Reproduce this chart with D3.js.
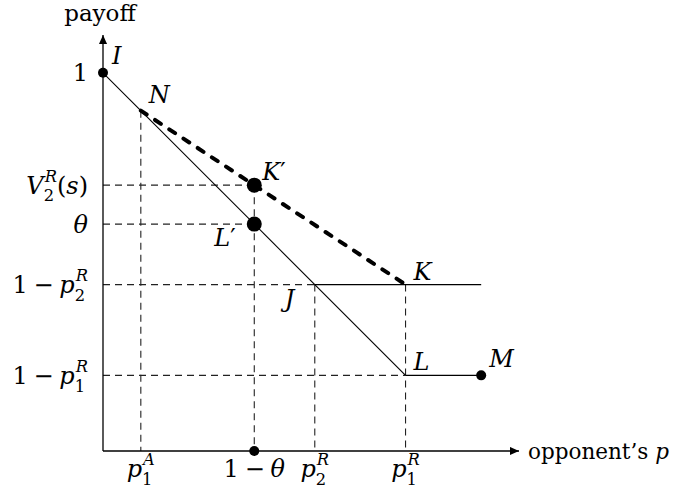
<!DOCTYPE html>
<html>
<head>
<meta charset="utf-8">
<script src="https://cdn.jsdelivr.net/npm/d3@7"></script>
<style>
  html, body { margin: 0; padding: 0; background: #fff; }
  svg { display: block; }
  text { font-family: "DejaVu Serif", serif; fill: #000; }
</style>
</head>
<body>
<svg id="chart" width="673" height="489"></svg>
<script>
// Tick positions and labels on each axis
const xTickValues = [0.1, 0.4, 0.56, 0.8];
const xTickLabels = ["p_1^A", "1 − θ", "p_2^R", "p_1^R"];
const yTickValues = [1, 0.703, 0.6, 0.44, 0.2];
const yTickLabels = ["1", "V_2^R(s)", "θ", "1 − p_2^R", "1 − p_1^R"];

// Named points of the payoff diagram
const pointNames = ["I", "N", "K′", "L′", "J", "K", "L", "M"];
const pointX     = [0,   0.1, 0.4,  0.4,  0.56, 0.8,  0.8, 1.0];
const pointY     = [1,   0.9, 0.703, 0.6, 0.44, 0.44, 0.2, 0.2];

const axisMax = 1.1;
const xAxisTitle = "opponent’s ";
const yAxisTitle = "payoff";

const svg = d3.select("#chart");
const FS = 23;   // text size
const MS = 24;   // math size

const x = d3.scaleLinear().domain([0, axisMax]).range([103, 519]);
const y = d3.scaleLinear().domain([0, axisMax]).range([451, 35]);

const P = {};
pointNames.forEach((n, i) => { P[n] = [pointX[i], pointY[i]]; });

const line = d3.line().x(d => x(d[0])).y(d => y(d[1]));

// math-style label in a single <text>: letters italic,
// "_c" subscript and "^c" superscript stacked after the base glyph
function mathLabel(str, px, py, anchor, size) {
  size = size || MS;
  const t = svg.append("text").attr("font-size", size);
  const isItalic = c => /[A-Za-zθ]/.test(c);
  let cx = 0, i = 0;
  const spans = [];
  while (i < str.length) {
    const ch = str[i];
    if (ch === "_" || ch === "^") {
      let sub = null, sup = null;
      while (i < str.length && (str[i] === "_" || str[i] === "^")) {
        if (str[i] === "_") sub = str[i + 1]; else sup = str[i + 1];
        i += 2;
      }
      let w = 0;
      const ss = size * 0.68;
      if (sup) {
        const s = t.append("tspan").attr("font-size", ss).text(sup)
          .style("font-style", isItalic(sup) ? "italic" : "normal");
        spans.push({ s, dx: cx + 1, dy: -size * 0.5 });
        w = Math.max(w, s.node().getComputedTextLength() + 1);
      }
      if (sub) {
        const s = t.append("tspan").attr("font-size", ss).text(sub)
          .style("font-style", isItalic(sub) ? "italic" : "normal");
        spans.push({ s, dx: cx, dy: size * 0.32 });
        w = Math.max(w, s.node().getComputedTextLength());
      }
      cx += w;
      continue;
    }
    if (ch === " ") { cx += size * 0.24; i++; continue; }
    const s = t.append("tspan").text(ch)
      .style("font-style", isItalic(ch) ? "italic" : "normal");
    spans.push({ s, dx: cx, dy: 0 });
    cx += s.node().getComputedTextLength();
    i++;
  }
  let ox = px;
  if (anchor === "end") ox = px - cx;
  else if (anchor === "middle") ox = px - cx / 2;
  spans.forEach(d => d.s.attr("x", ox + d.dx).attr("y", py + d.dy));
  return t;
}

// arrowhead marker
svg.append("defs").append("marker")
  .attr("id", "arrow").attr("viewBox", "0 0 10 10")
  .attr("refX", 10).attr("refY", 5)
  .attr("markerWidth", 11).attr("markerHeight", 9)
  .attr("markerUnits", "userSpaceOnUse")
  .attr("orient", "auto")
  .append("path").attr("d", "M0,0.5 L10,5 L0,9.5 Z").attr("fill", "#000");

// thin dashed guide lines
const guides = svg.append("g")
  .attr("fill", "none").attr("stroke", "#222")
  .attr("stroke-width", 1.1).attr("stroke-dasharray", "7,5");

// vertical guides from the points down to the x axis
[["N", 0.1], ["K′", 0.4], ["J", 0.56], ["K", 0.8]].forEach(([n, xv]) => {
  guides.append("path").attr("d", line([[xv, P[n][1]], [xv, 0]]));
});
// horizontal guides from the y axis across to the points
[["K′", 0.703], ["L′", 0.6], ["J", 0.44], ["L", 0.2]].forEach(([n, yv]) => {
  guides.append("path").attr("d", line([[0, yv], [P[n][0], yv]]));
});

// solid payoff segments
const solid = svg.append("g").attr("fill", "none").attr("stroke", "#000").attr("stroke-width", 1.1);
solid.append("path").attr("d", line([P["I"], P["L"]]));
solid.append("path").attr("d", line([P["L"], P["M"]]));
solid.append("path").attr("d", line([P["J"], [1.0, 0.44]]));

// thick dashed segment N–K
svg.append("path").attr("d", line([P["N"], P["K"]]))
  .attr("fill", "none").attr("stroke", "#000")
  .attr("stroke-width", 4).attr("stroke-linecap", "round")
  .attr("stroke-dasharray", "7,10");

// axes
svg.append("path").attr("d", line([[0, 0], [axisMax, 0]]))
  .attr("stroke", "#000").attr("stroke-width", 1.3).attr("marker-end", "url(#arrow)");
svg.append("path").attr("d", line([[0, 0], [0, axisMax]]))
  .attr("stroke", "#000").attr("stroke-width", 1.3).attr("marker-end", "url(#arrow)");

// dots
const dots = [
  { p: P["I"], r: 5 },
  { p: P["K′"], r: 7.5 },
  { p: P["L′"], r: 7.5 },
  { p: P["M"], r: 5 },
  { p: [0.4, 0], r: 5 }
];
svg.append("g").selectAll("circle").data(dots).join("circle")
  .attr("cx", d => x(d.p[0])).attr("cy", d => y(d.p[1])).attr("r", d => d.r)
  .attr("fill", "#000");

// tick labels
xTickValues.forEach((v, i) => mathLabel(xTickLabels[i], x(v), 477, "middle"));
yTickValues.forEach((v, i) => mathLabel(yTickLabels[i], 88, y(v) + 8.5, "end"));

// point labels
const pointLabelOffset = {
  "I": [9, -9], "N": [8, -8], "K′": [8, -5], "L′": [-40, 22],
  "J": [-30, 22], "K": [8, -5], "L": [8, -5], "M": [8, -8]
};
pointNames.forEach(n => {
  const o = pointLabelOffset[n];
  mathLabel(n, x(P[n][0]) + o[0], y(P[n][1]) + o[1], "start");
});

// axis titles
svg.append("text").attr("x", 100).attr("y", 21).attr("text-anchor", "middle")
  .attr("font-size", FS).text(yAxisTitle);
const xt = svg.append("text").attr("x", 528).attr("y", 459).attr("font-size", 21.5);
xt.append("tspan").text(xAxisTitle);
xt.append("tspan").style("font-style", "italic").text("p");
</script>
</body>
</html>
